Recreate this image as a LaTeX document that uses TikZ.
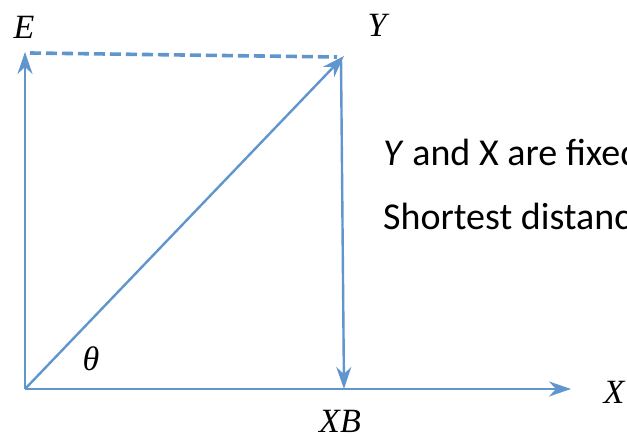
\documentclass[tikz,border=0pt]{standalone}
\usepackage{fontspec}
\setmainfont{Liberation Serif}
\newfontfamily\calib{Carlito}
\usetikzlibrary{arrows.meta}
\definecolor{lineblue}{RGB}{96,150,205}
\tikzset{
  vec/.style={draw=lineblue, line width=2.4pt, -{Stealth[length=22pt,width=15pt,inset=7pt]}},
  dashline/.style={draw=lineblue, line width=3.6pt, dash pattern=on 11pt off 5pt},
  mlabel/.style={font=\fontsize{34}{40}\selectfont\itshape, inner sep=0pt},
  txt/.style={font=\calib\fontsize{38}{44}\selectfont, inner sep=0pt, anchor=base west}
}
\begin{document}
\begin{tikzpicture}[x=1pt,y=-1pt]
\useasboundingbox (0,0) rectangle (627,438);
\clip (0,0) rectangle (627,438);
\coordinate (O) at (25,389);
\coordinate (Et) at (25,52);
\coordinate (Yt) at (344,56);
\coordinate (Xt) at (571,389);
\coordinate (XBt) at (344,389);
\coordinate (Ys) at (341,58);
\coordinate (Ds) at (30,53);
\coordinate (De) at (337,57);
\draw[vec] (O) -- (Et);
\draw[vec] (O) -- (Yt);
\draw[vec] (O) -- (Xt);
\draw[vec] (Ys) -- (XBt);
\draw[dashline] (Ds) -- (De);
\node[mlabel] (E) at (24,27) {E};
\node[mlabel] (Y) at (377,25) {Y};
\node[mlabel] (X) at (614,392) {X};
\node[mlabel] (XB) at (340,421) {XB};
\node[mlabel] (th) at (91,359) {θ};
\node[txt] (t1) at (383,166) {\textit{Y} and X are fixed};
\node[txt] (t2) at (383,230) {Shortest distance};
\end{tikzpicture}
\end{document}
